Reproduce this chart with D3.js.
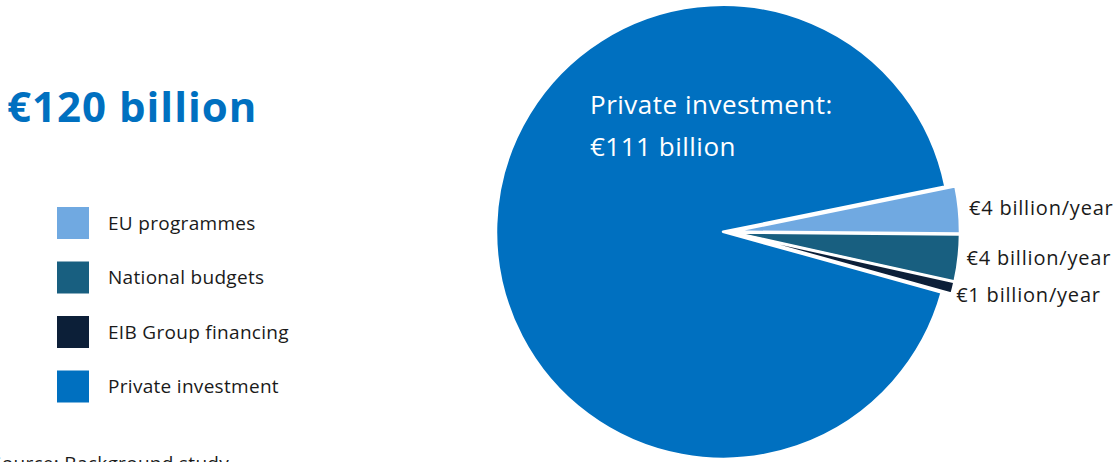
<!DOCTYPE html>
<html>
<head>
<meta charset="utf-8">
<script src="https://cdn.jsdelivr.net/npm/d3@7"></script>
<style>
  html, body { margin: 0; padding: 0; background: #ffffff; }
  svg { display: block; }
  text { font-family: "Open Sans", "Noto Sans", sans-serif; }
</style>
</head>
<body>
<svg id="chart" width="1118" height="462"></svg>
<script>
// Funding sources, € billion
const categories = ["EU programmes", "National budgets", "EIB Group financing", "Private investment"];
const values = [4, 4, 1, 111];
const colors = ["#70A9E1", "#185F80", "#0C1F38", "#0070C0"];
const sliceLabels = ["€4 billion/year", "€4 billion/year", "€1 billion/year", null];
const totalLabel = "€120 billion";
const privateLabel = ["Private investment:", "€111 billion"];
const sourceNote = "Source: Background study";

const svg = d3.select("#chart");

// Headline total
svg.append("text")
  .attr("x", 7).attr("y", 122)
  .attr("fill", "#0070C0")
  .attr("font-weight", 700)
  .attr("font-size", 42)
  .attr("letter-spacing", 1)
  .text(totalLabel);

// Legend
const legend = svg.append("g").attr("transform", "translate(57,207)");
const rows = legend.selectAll("g").data(categories).join("g")
  .attr("transform", (d, i) => `translate(0,${i * 54.5})`);
rows.append("rect").attr("width", 32).attr("height", 32)
  .attr("fill", (d, i) => colors[i]);
rows.append("text").attr("x", 51).attr("y", 16).attr("dy", "0.35em")
  .attr("font-size", 19).attr("letter-spacing", 0.3)
  .attr("fill", "#1a1a1a").text(d => d);

// Source line
svg.append("text").attr("x", -9).attr("y", 470)
  .attr("font-size", 19).attr("letter-spacing", 0.3)
  .attr("fill", "#1a1a1a").text(sourceNote);

// Pie
const cx = 729, cy = 232, R = 227;
const deg = Math.PI / 180;
const pie = d3.pie().sort(null).value(d => d)
  .startAngle(78.5 * deg).endAngle(78.5 * deg + 2 * Math.PI);
const arcs = pie(values);
const arc = d3.arc().innerRadius(0).outerRadius(R);
const explode = [4, 4, 4, 6];

const g = svg.append("g").attr("transform", `translate(${cx},${cy})`);
g.selectAll("path").data(arcs).join("path")
  .attr("d", arc)
  .attr("fill", (d, i) => colors[i])
  .attr("stroke", "#ffffff")
  .attr("stroke-width", 2.5)
  .attr("stroke-linejoin", "round")
  .attr("transform", (d, i) => {
    const a = (d.startAngle + d.endAngle) / 2;
    return `translate(${Math.sin(a) * explode[i]},${-Math.cos(a) * explode[i]})`;
  });

// Value labels beside the small slices
const labelDx = [10, 8, 3];
const labelDy = [-2, 0, 7];
arcs.forEach((d, i) => {
  if (!sliceLabels[i]) return;
  const a = (d.startAngle + d.endAngle) / 2;
  const r = R + explode[i];
  g.append("text")
    .attr("x", Math.sin(a) * r + labelDx[i])
    .attr("y", -Math.cos(a) * r + labelDy[i])
    .attr("dy", "0.35em")
    .attr("font-size", 20).attr("letter-spacing", 0.8)
    .attr("fill", "#1a1a1a")
    .text(sliceLabels[i]);
});

// Label inside the private slice
const pl = svg.append("text").attr("fill", "#ffffff")
  .attr("font-size", 26).attr("letter-spacing", 0.5);
pl.append("tspan").attr("x", 590).attr("y", 114).text(privateLabel[0]);
pl.append("tspan").attr("x", 590).attr("y", 156).text(privateLabel[1]);
</script>
</body>
</html>
